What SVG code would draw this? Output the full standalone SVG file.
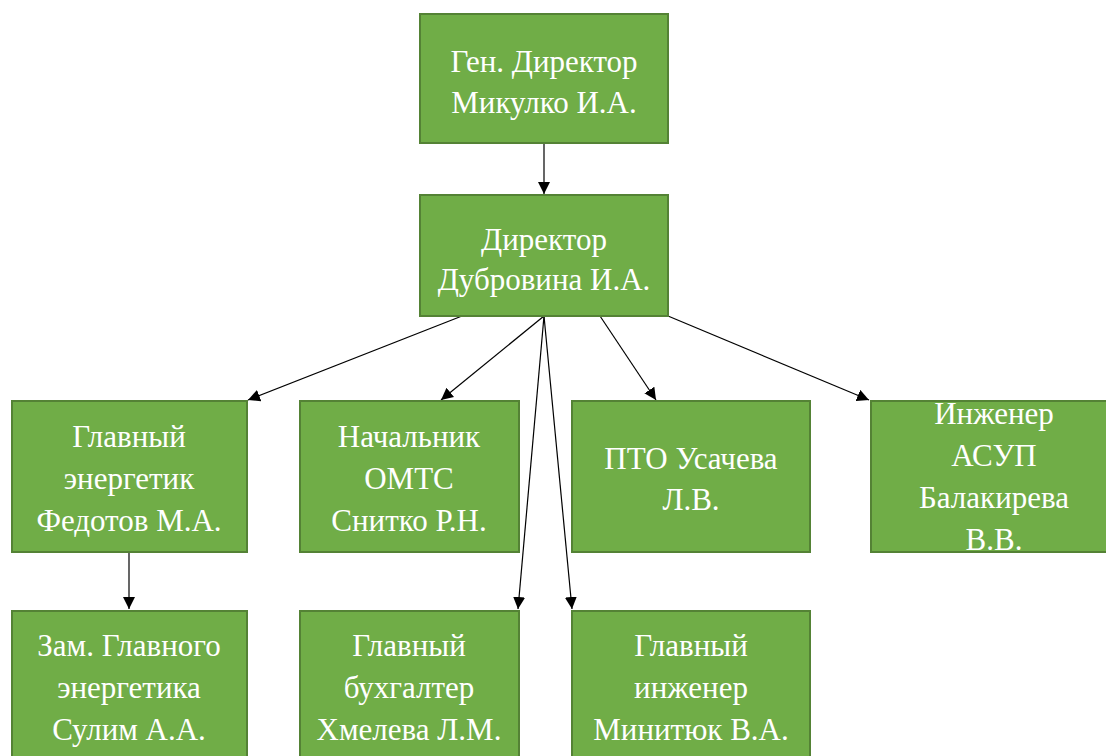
<svg xmlns="http://www.w3.org/2000/svg" width="1106" height="756" viewBox="0 0 1106 756">
<defs>
<marker id="arr" viewBox="0 0 12 12" refX="12" refY="6" markerWidth="12" markerHeight="12" markerUnits="userSpaceOnUse" orient="auto">
<path d="M0,0 L12,6 L0,12 z" fill="#000"/>
</marker>
<style>
.box{fill:#70AD47;stroke:#548235;stroke-width:2}
.t{font-family:"Liberation Serif","Times New Roman",serif;font-size:31px;fill:#fff;text-anchor:middle}
.c{stroke:#000;stroke-width:1.2;fill:none;marker-end:url(#arr)}
</style>
</defs>
<rect width="1106" height="756" fill="#fff"/>
<g id="connectors">
<line class="c" x1="544" y1="143" x2="544" y2="194"/>
<line class="c" x1="462" y1="316" x2="248" y2="400"/>
<line class="c" x1="544" y1="316" x2="441" y2="400"/>
<line class="c" x1="544" y1="316" x2="518" y2="609"/>
<line class="c" x1="544" y1="316" x2="572" y2="609"/>
<line class="c" x1="600" y1="316" x2="656" y2="400"/>
<line class="c" x1="668" y1="316" x2="869" y2="400"/>
<line class="c" x1="129" y1="552" x2="129" y2="609"/>
</g>
<g id="gen">
<rect class="box" x="420" y="14" width="248" height="129"/>
<text class="t" x="544" y="72">Ген. Директор</text>
<text class="t" x="544" y="113">Микулко И.А.</text>
</g>
<g id="dir">
<rect class="box" x="420" y="195" width="248" height="121"/>
<text class="t" x="544" y="250">Директор</text>
<text class="t" x="544" y="290">Дубровина И.А.</text>
</g>
<g id="energ">
<rect class="box" x="12" y="401" width="235" height="151"/>
<text class="t" x="129" y="447">Главный</text>
<text class="t" x="129" y="489">энергетик</text>
<text class="t" x="129" y="531">Федотов М.А.</text>
</g>
<g id="omts">
<rect class="box" x="300" y="401" width="219" height="151"/>
<text class="t" x="409" y="447">Начальник</text>
<text class="t" x="409" y="489">ОМТС</text>
<text class="t" x="409" y="531">Снитко Р.Н.</text>
</g>
<g id="pto">
<rect class="box" x="572" y="401" width="238" height="151"/>
<text class="t" x="691" y="469">ПТО Усачева</text>
<text class="t" x="691" y="510">Л.В.</text>
</g>
<g id="asup">
<rect class="box" x="871" y="401" width="247" height="151"/>
<text class="t" x="994" y="424">Инженер</text>
<text class="t" x="994" y="466">АСУП</text>
<text class="t" x="994" y="508">Балакирева</text>
<text class="t" x="994" y="550">В.В.</text>
</g>
<g id="zam">
<rect class="box" x="12" y="611" width="235" height="150"/>
<text class="t" x="129" y="656">Зам. Главного</text>
<text class="t" x="129" y="698">энергетика</text>
<text class="t" x="129" y="740">Сулим А.А.</text>
</g>
<g id="buh">
<rect class="box" x="300" y="611" width="219" height="150"/>
<text class="t" x="409" y="656">Главный</text>
<text class="t" x="409" y="698">бухгалтер</text>
<text class="t" x="409" y="740">Хмелева Л.М.</text>
</g>
<g id="inzh">
<rect class="box" x="572" y="611" width="238" height="150"/>
<text class="t" x="691" y="656">Главный</text>
<text class="t" x="691" y="698">инженер</text>
<text class="t" x="691" y="740">Минитюк В.А.</text>
</g>
</svg>
